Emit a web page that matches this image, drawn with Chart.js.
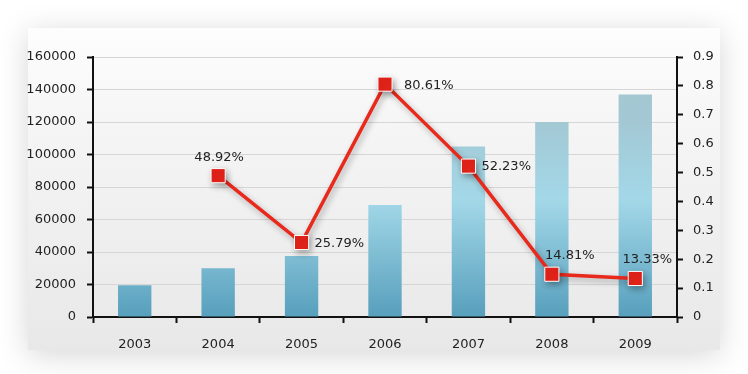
<!DOCTYPE html>
<html>
<head>
<meta charset="utf-8">
<script src="https://cdn.jsdelivr.net/npm/chart.js@4.4.1/dist/chart.umd.min.js"></script>
<style>
  html, body { margin: 0; padding: 0; background: #fff; }
  #wrap { width: 748px; height: 374px; }
</style>
</head>
<body>
<div id="wrap"><canvas id="myChart" width="748" height="374"></canvas></div>
<script>
const years = ['2003', '2004', '2005', '2006', '2007', '2008', '2009'];
const amounts = [19500, 30000, 37500, 69000, 105000, 120000, 137000];
const growth = [null, 0.4892, 0.2579, 0.8061, 0.5223, 0.1481, 0.1333];
const growthLabels = ['', '48.92%', '25.79%', '80.61%', '52.23%', '14.81%', '13.33%'];

// where each percentage sits relative to its point
const labelSide = ['', 'above', 'right', 'right', 'right', 'above', 'above'];

const font = "'DejaVu Sans', sans-serif";

const backdrop = {
    id: 'backdrop',
    beforeDraw(chart) {
        const c = chart.ctx;
        c.save();
        c.fillStyle = '#fff';
        c.fillRect(0, 0, chart.width, chart.height);
        const g = c.createLinearGradient(0, 28, 0, 352);
        g.addColorStop(0, '#fdfdfd');
        g.addColorStop(0.35, '#f4f4f4');
        g.addColorStop(1, '#e8e8e8');
        c.shadowColor = 'rgba(0,0,0,0.16)';
        c.shadowBlur = 28;
        c.shadowOffsetY = 5;
        c.fillStyle = g;
        c.fillRect(28, 28, 692, 322);
        c.restore();
    }
};

const lineShadow = {
    id: 'lineShadow',
    beforeDatasetDraw(chart, args) {
        if (args.index === 1) {
            chart.ctx.save();
            chart.ctx.shadowColor = 'rgba(0,0,0,0.3)';
            chart.ctx.shadowBlur = 6;
            chart.ctx.shadowOffsetX = 2;
            chart.ctx.shadowOffsetY = 3;
        }
    },
    afterDatasetDraw(chart, args) {
        if (args.index === 1) chart.ctx.restore();
    }
};

const pctLabels = {
    id: 'pctLabels',
    afterDatasetsDraw(chart) {
        const c = chart.ctx;
        const meta = chart.getDatasetMeta(1);
        c.save();
        c.font = '13px ' + font;
        c.fillStyle = '#222';
        meta.data.forEach((pt, i) => {
            if (!growthLabels[i]) return;
            if (labelSide[i] === 'above') {
                c.textAlign = 'center';
                c.textBaseline = 'bottom';
                const dx = i === 5 ? 18 : (i === 6 ? 12 : 1);
                c.fillText(growthLabels[i], pt.x + dx, pt.y - 12);
            } else {
                c.textAlign = 'left';
                c.textBaseline = 'middle';
                c.fillText(growthLabels[i], pt.x + (i === 3 ? 19 : 13), pt.y + 1);
            }
        });
        c.restore();
    }
};

function barFill(context) {
    const area = context.chart.chartArea;
    if (!area) return '#6fb3cc';
    const g = context.chart.ctx.createLinearGradient(0, area.bottom, 0, area.top);
    g.addColorStop(0, '#579fbc');
    g.addColorStop(0.45, '#a3d8e8');
    g.addColorStop(0.75, '#a3c8d4');
    g.addColorStop(1, '#a6c8cf');
    return g;
}

const ctx = document.getElementById('myChart').getContext('2d');
const myChart = new Chart(ctx, {
    type: 'bar',
    data: {
        labels: years,
        datasets: [{
            type: 'bar',
            data: amounts,
            yAxisID: 'y',
            backgroundColor: barFill,
            barPercentage: 0.4,
            categoryPercentage: 1,
            order: 2
        }, {
            type: 'line',
            data: growth,
            yAxisID: 'y1',
            borderColor: '#e8291b',
            borderWidth: 3.5,
            pointStyle: 'rect',
            pointRadius: 10,
            pointBackgroundColor: '#e5231a',
            pointBorderColor: '#ffffff',
            pointBorderWidth: 1,
            spanGaps: false,
            order: 1
        }]
    },
    options: {
        responsive: false,
        animation: false,
        layout: { padding: { top: 57, bottom: 0, left: 0, right: 0 } },
        plugins: { legend: { display: false }, tooltip: { enabled: false } },
        scales: {
            x: {
                offset: true,
                grid: { drawOnChartArea: false, tickLength: 6, tickColor: '#111', tickWidth: 2, offset: true },
                border: { color: '#111', width: 2 },
                ticks: { color: '#222', font: { family: font, size: 13 }, padding: 14 },
                afterFit(scale) { scale.height = 57; }
            },
            y: {
                position: 'left',
                min: 0, max: 160000,
                ticks: { stepSize: 20000, color: '#222', font: { family: font, size: 13 }, padding: 11,
                    callback: v => String(v) },
                grid: { color: '#d6d6d6', tickColor: '#111', tickLength: 6, tickWidth: 2 },
                border: { color: '#111', width: 2 },
                afterFit(scale) { scale.width = 93; }
            },
            y1: {
                position: 'right',
                min: 0, max: 0.9,
                ticks: { stepSize: 0.1, color: '#222', font: { family: font, size: 13 }, padding: 10,
                    callback: v => String(Math.round(v * 10) / 10) },
                grid: { drawOnChartArea: false, tickColor: '#111', tickLength: 6, tickWidth: 2 },
                border: { color: '#111', width: 2 },
                afterFit(scale) { scale.width = 71; }
            }
        }
    },
    plugins: [backdrop, lineShadow, pctLabels]
});
</script>
</body>
</html>
